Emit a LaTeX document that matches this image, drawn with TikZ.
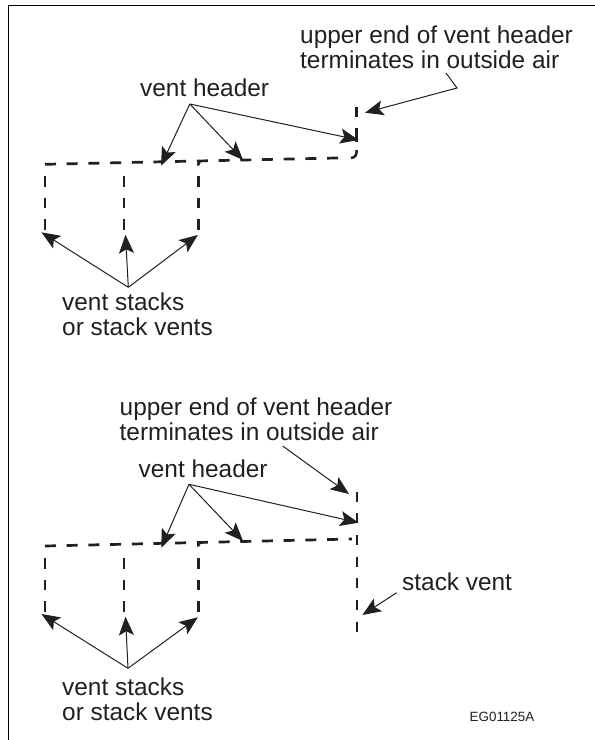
\documentclass[tikz,border=0pt]{standalone}
\usepackage{fontspec}
\setmainfont{Liberation Sans}
\usetikzlibrary{arrows.meta}
\definecolor{ink}{HTML}{231F20}
\tikzset{
  pipeh/.style={draw=ink,line width=2.7bp,dash pattern=on 11bp off 10.7bp},
  pipev/.style={draw=ink,line width=2.4bp,dash pattern=on 10.5bp off 11.2bp},
  pipebit/.style={draw=ink,line width=2.5bp},
  leader/.style={draw=ink,line width=1bp},
  pointer/.style={leader,-{Stealth[length=18.5bp,width=15bp,inset=4bp]}},
  label/.style={anchor=base west,inner sep=0pt,text=ink,font=\fontsize{24.4bp}{24.4bp}\selectfont},
  code/.style={anchor=base west,inner sep=0pt,text=ink,font=\fontsize{13.4bp}{13.4bp}\selectfont}
}
\begin{document}
\begin{tikzpicture}[x=1bp,y=-1bp]
\useasboundingbox (0,0) rectangle (595,740);
\fill[white] (0,0) rectangle (595,740);
% frame
\draw[line width=1.6bp,black] (8.3,740) -- (8.3,5.5) -- (595,5.5);

% ---------- upper diagram ----------
\node[label] (ua1) at (300,43.5) {upper end of vent header};
\node[label] (ua2) at (300,69) {terminates in outside air};
\node[label] (vh1) at (140,96) {vent header};
\node[label] (vs1a) at (62,310) {vent stacks};
\node[label] (vs1b) at (62,335.7) {or stack vents};

\draw[pipeh] (45,164.3) -- (341,157.9);
\draw[pipebit] (351,158) .. controls (355.5,157.5) and (356.7,155) .. (356.7,150);
\draw[pipebit] (356.7,106.7) -- (356.7,116.7);
\draw[pipebit] (356.7,128) -- (356.7,142);
\draw[pipev] (44.7,176) -- (44.7,232);
\draw[pipev] (124,176) -- (124,232);
\draw[pipev] (198.3,176) -- (198.3,232);
\draw[pipebit] (198.3,165.5) -- (198.3,163.5) -- (200,162);

\coordinate (h1) at (189.8,104);
\coordinate (t1a) at (161,165.7);
\coordinate (t1b) at (243,160);
\coordinate (t1c) at (358.6,140);
\draw[pointer] (h1) -- (t1a);
\draw[pointer] (h1) -- (t1b);
\draw[pointer] (h1) -- (t1c);

\coordinate (l1a) at (446,73);
\coordinate (l1b) at (457,88);
\coordinate (l1c) at (365,112.7);
\draw[pointer] (l1a) -- (l1b) -- (l1c);

\coordinate (s1) at (128.3,287.3);
\coordinate (s1a) at (41.5,232.3);
\coordinate (s1b) at (125.5,234.8);
\coordinate (s1c) at (197.8,235);
\draw[pointer] (s1) -- (s1a);
\draw[pointer] (s1) -- (s1b);
\draw[pointer] (s1) -- (s1c);

% ---------- lower diagram ----------
\node[label] (ub1) at (119.5,415.5) {upper end of vent header};
\node[label] (ub2) at (119.5,440) {terminates in outside air};
\node[label] (vh2) at (138.5,477.7) {vent header};
\node[label] (sv) at (402,590.7) {stack vent};
\node[label] (vs2a) at (62,695) {vent stacks};
\node[label] (vs2b) at (62,720.7) {or stack vents};
\node[code] (eg) at (469.5,721.7) {EG01125A};

\draw[pipeh] (45,546) -- (352,539);
\draw[pipev,dash pattern=on 10bp off 11.67bp] (356.7,491.7) -- (356.7,632);
\draw[pipev] (44.7,558) -- (44.7,614);
\draw[pipev] (124,558) -- (124,614);
\draw[pipev] (198.3,558) -- (198.3,614);
\draw[pipebit] (198.3,546.5) -- (198.3,544.5) -- (200,543);

\coordinate (h2) at (189,484.3);
\coordinate (t2a) at (161.3,547.7);
\coordinate (t2b) at (243,541);
\coordinate (t2c) at (358.6,522.7);
\draw[pointer] (h2) -- (t2a);
\draw[pointer] (h2) -- (t2b);
\draw[pointer] (h2) -- (t2c);

\coordinate (l2a) at (282.7,446);
\coordinate (l2b) at (349,494);
\draw[pointer] (l2a) -- (l2b);

\coordinate (l3a) at (396.6,592.7);
\coordinate (l3b) at (362.4,615);
\draw[pointer] (l3a) -- (l3b);

\coordinate (s2) at (128,668.3);
\coordinate (s2a) at (41.5,614);
\coordinate (s2b) at (125.5,616.7);
\coordinate (s2c) at (197.8,617.3);
\draw[pointer] (s2) -- (s2a);
\draw[pointer] (s2) -- (s2b);
\draw[pointer] (s2) -- (s2c);
\end{tikzpicture}
\end{document}
